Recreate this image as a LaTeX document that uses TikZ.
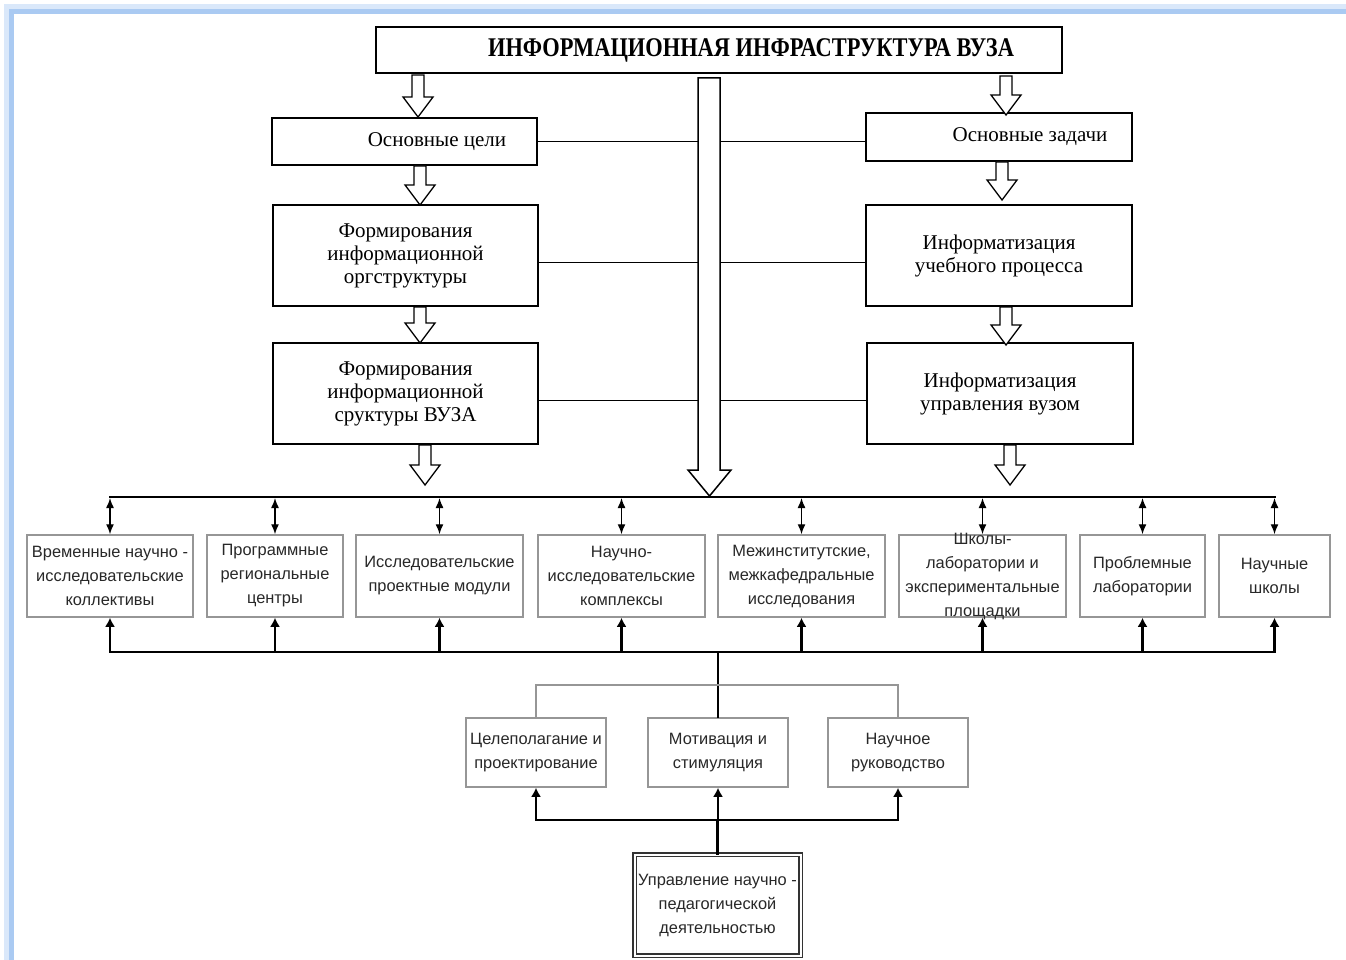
\documentclass[tikz,border=0pt]{standalone}
\usepackage{fontspec}
\setmainfont{Liberation Serif}
\newfontfamily\sansf{Liberation Sans}
\usetikzlibrary{arrows.meta,calc}
\definecolor{frameblue}{RGB}{170,202,242}
\definecolor{frameglow}{RGB}{218,232,250}
\definecolor{boxgray}{RGB}{150,150,150}
\definecolor{txtgray}{RGB}{40,40,40}
\newcommand\blockarrow[3]{\draw[line width=1.3pt, fill=white, line join=miter]
  (#1-6,#2) -- (#1+6,#2) -- (#1+6,#3-20) -- (#1+15,#3-20) -- (#1,#3) -- (#1-15,#3-20) -- (#1-6,#3-20) -- cycle;}
\begin{document}
\begin{tikzpicture}[x=1pt,y=-1pt,
  sbox/.style={draw, line width=1.3pt, fill=white, align=center, inner sep=2pt,
    font=\fontsize{21}{23}\selectfont},
  gbox/.style={draw=boxgray, line width=1.5pt, fill=white, align=center, text=txtgray,
    font=\sansf\fontsize{16.4}{24}\selectfont, inner sep=2pt},
  bus/.style={line width=2.3pt, line cap=rect},
  dbl/.style={line width=1.4pt, {Latex[length=10pt,width=8pt]}-{Latex[length=10pt,width=8pt]}},
  uparr/.style={line width=2.3pt, -{Latex[length=9pt,width=10pt]}},
  conn/.style={line width=1pt},
  gline/.style={line width=1.2pt, draw=boxgray}]
\useasboundingbox (0,0) rectangle (1346,960);
\fill[white] (0,0) rectangle (1346,960);
% frame
\draw[line width=10pt, frameglow] (9,960) -- (9,9) -- (1346,9);
\draw[line width=5pt, frameblue] (11.5,960) -- (11.5,11.5) -- (1346,11.5);

% top
\node[sbox, minimum width=686pt, minimum height=46pt] (top) at (719,50)
  {\hspace*{64pt}\fontsize{27}{27}\selectfont\bfseries\scalebox{0.83}[1]{ИНФОРМАЦИОННАЯ ИНФРАСТРУКТУРА ВУЗА}};

% left column
\node[sbox, minimum width=265pt, minimum height=47pt] (goals) at (404.5,141.5) {\hspace*{65pt}Основные цели};
\node[sbox, minimum width=265pt, minimum height=101pt] (f1) at (405.5,255.5) {Формирования\\информационной\\оргструктуры};
\node[sbox, minimum width=265pt, minimum height=101pt] (f2) at (405.5,393.5) {Формирования\\информационной\\сруктуры ВУЗА};
% right column
\node[sbox, minimum width=266pt, minimum height=48pt] (tasks) at (999,137) {\hspace*{62pt}Основные задачи};
\node[sbox, minimum width=266pt, minimum height=101pt] (i1) at (999,255.5) {Информатизация\\учебного процесса};
\node[sbox, minimum width=266pt, minimum height=101pt] (i2) at (1000,393.5) {Информатизация\\управления вузом};

% horizontal connectors
\draw[conn] (goals.east) -- (goals.east -| tasks.west);
\draw[conn] ([yshift=-6.5pt]f1.east) -- ([yshift=-6.5pt]f1.east -| i1.west);
\draw[conn] ([yshift=-7pt]f2.east) -- ([yshift=-7pt]f2.east -| i2.west);

% block arrows
\blockarrow{418}{75}{117}
\blockarrow{420}{166}{205}
\blockarrow{420}{307}{343}
\blockarrow{425}{445}{485}
\blockarrow{1006}{76}{115}
\blockarrow{1002}{162}{200}
\blockarrow{1006}{307}{345}
\blockarrow{1010}{445}{485}

% bottom row
\node[gbox, minimum width=166pt, minimum height=82pt] (b1) at (110,576) {Временные научно -\\исследовательские\\коллективы};
\node[gbox, minimum width=136pt, minimum height=82pt] (b2) at (275,576) {Программные\\региональные\\центры};
\node[gbox, minimum width=167pt, minimum height=82pt] (b3) at (439.5,576) {Исследовательские\\проектные модули};
\node[gbox, minimum width=167pt, minimum height=82pt] (b4) at (621.5,576) {Научно-\\исследовательские\\комплексы};
\node[gbox, minimum width=167pt, minimum height=82pt] (b5) at (801.5,576) {Межинститутские,\\межкафедральные\\исследования};
\node[gbox, minimum width=167pt, minimum height=82pt] (b6) at (982.5,576)
  {\raisebox{-0.5em}{\smash{\begin{tabular}{@{}c@{}}Школы-\\лаборатории и\\экспериментальные\\площадки\end{tabular}}}};
\node[gbox, minimum width=125pt, minimum height=82pt] (b7) at (1142.5,576) {Проблемные\\лаборатории};
\node[gbox, minimum width=111pt, minimum height=82pt] (b8) at (1274.5,576) {Научные\\школы};

% buses
\coordinate (bt) at (0,497);
\coordinate (bb) at (0,652);
\draw[bus] (b1.north|-bt) -- (b8.north|-bt);
\draw[bus] (b1.south|-bb) -- (b8.south|-bb);
\foreach \n in {b1,b2,b3,b4,b5,b6,b7,b8}{
  \draw[dbl] ([yshift=-1pt]\n.north|-bt) -- (\n.north);
  \draw[uparr] (\n.south|-bb) -- (\n.south);
}

% central big arrow
\draw[line width=1.5pt, fill=white, line join=miter] (698,78) -- (720,78) -- (720,470) -- (731,470) -- (709.5,496) -- (688,470) -- (698,470) -- cycle;

% middle row
\node[gbox, minimum width=140pt, minimum height=69pt] (m1) at (536,752.5) {Целеполагание и\\проектирование};
\node[gbox, minimum width=140pt, minimum height=69pt] (m2) at (718,752.5) {Мотивация и\\стимуляция};
\node[gbox, minimum width=140pt, minimum height=69pt] (m3) at (898,752.5) {Научное\\руководство};

\draw[bus] (m2.north|-bb) -- (m2.north);
\coordinate (gl) at (0,685);
\draw[gline] (m1.north) -- (m1.north|-gl) -- (m3.north|-gl) -- (m3.north);

% bottom control box
\node[gbox, draw=black!80, line width=1.8pt, double=white, double distance=2pt,
  minimum width=166pt, minimum height=101pt] (ctrl) at (717.5,905)
  {Управление научно -\\педагогической\\деятельностью};

\coordinate (lb) at (0,820);
\draw[bus] (m1.south|-lb) -- (m3.south|-lb);
\draw[bus] (ctrl.north) -- (ctrl.north|-lb);
\foreach \n in {m1,m2,m3}{
  \draw[uparr] (\n.south|-lb) -- (\n.south);
}
\end{tikzpicture}
\end{document}
